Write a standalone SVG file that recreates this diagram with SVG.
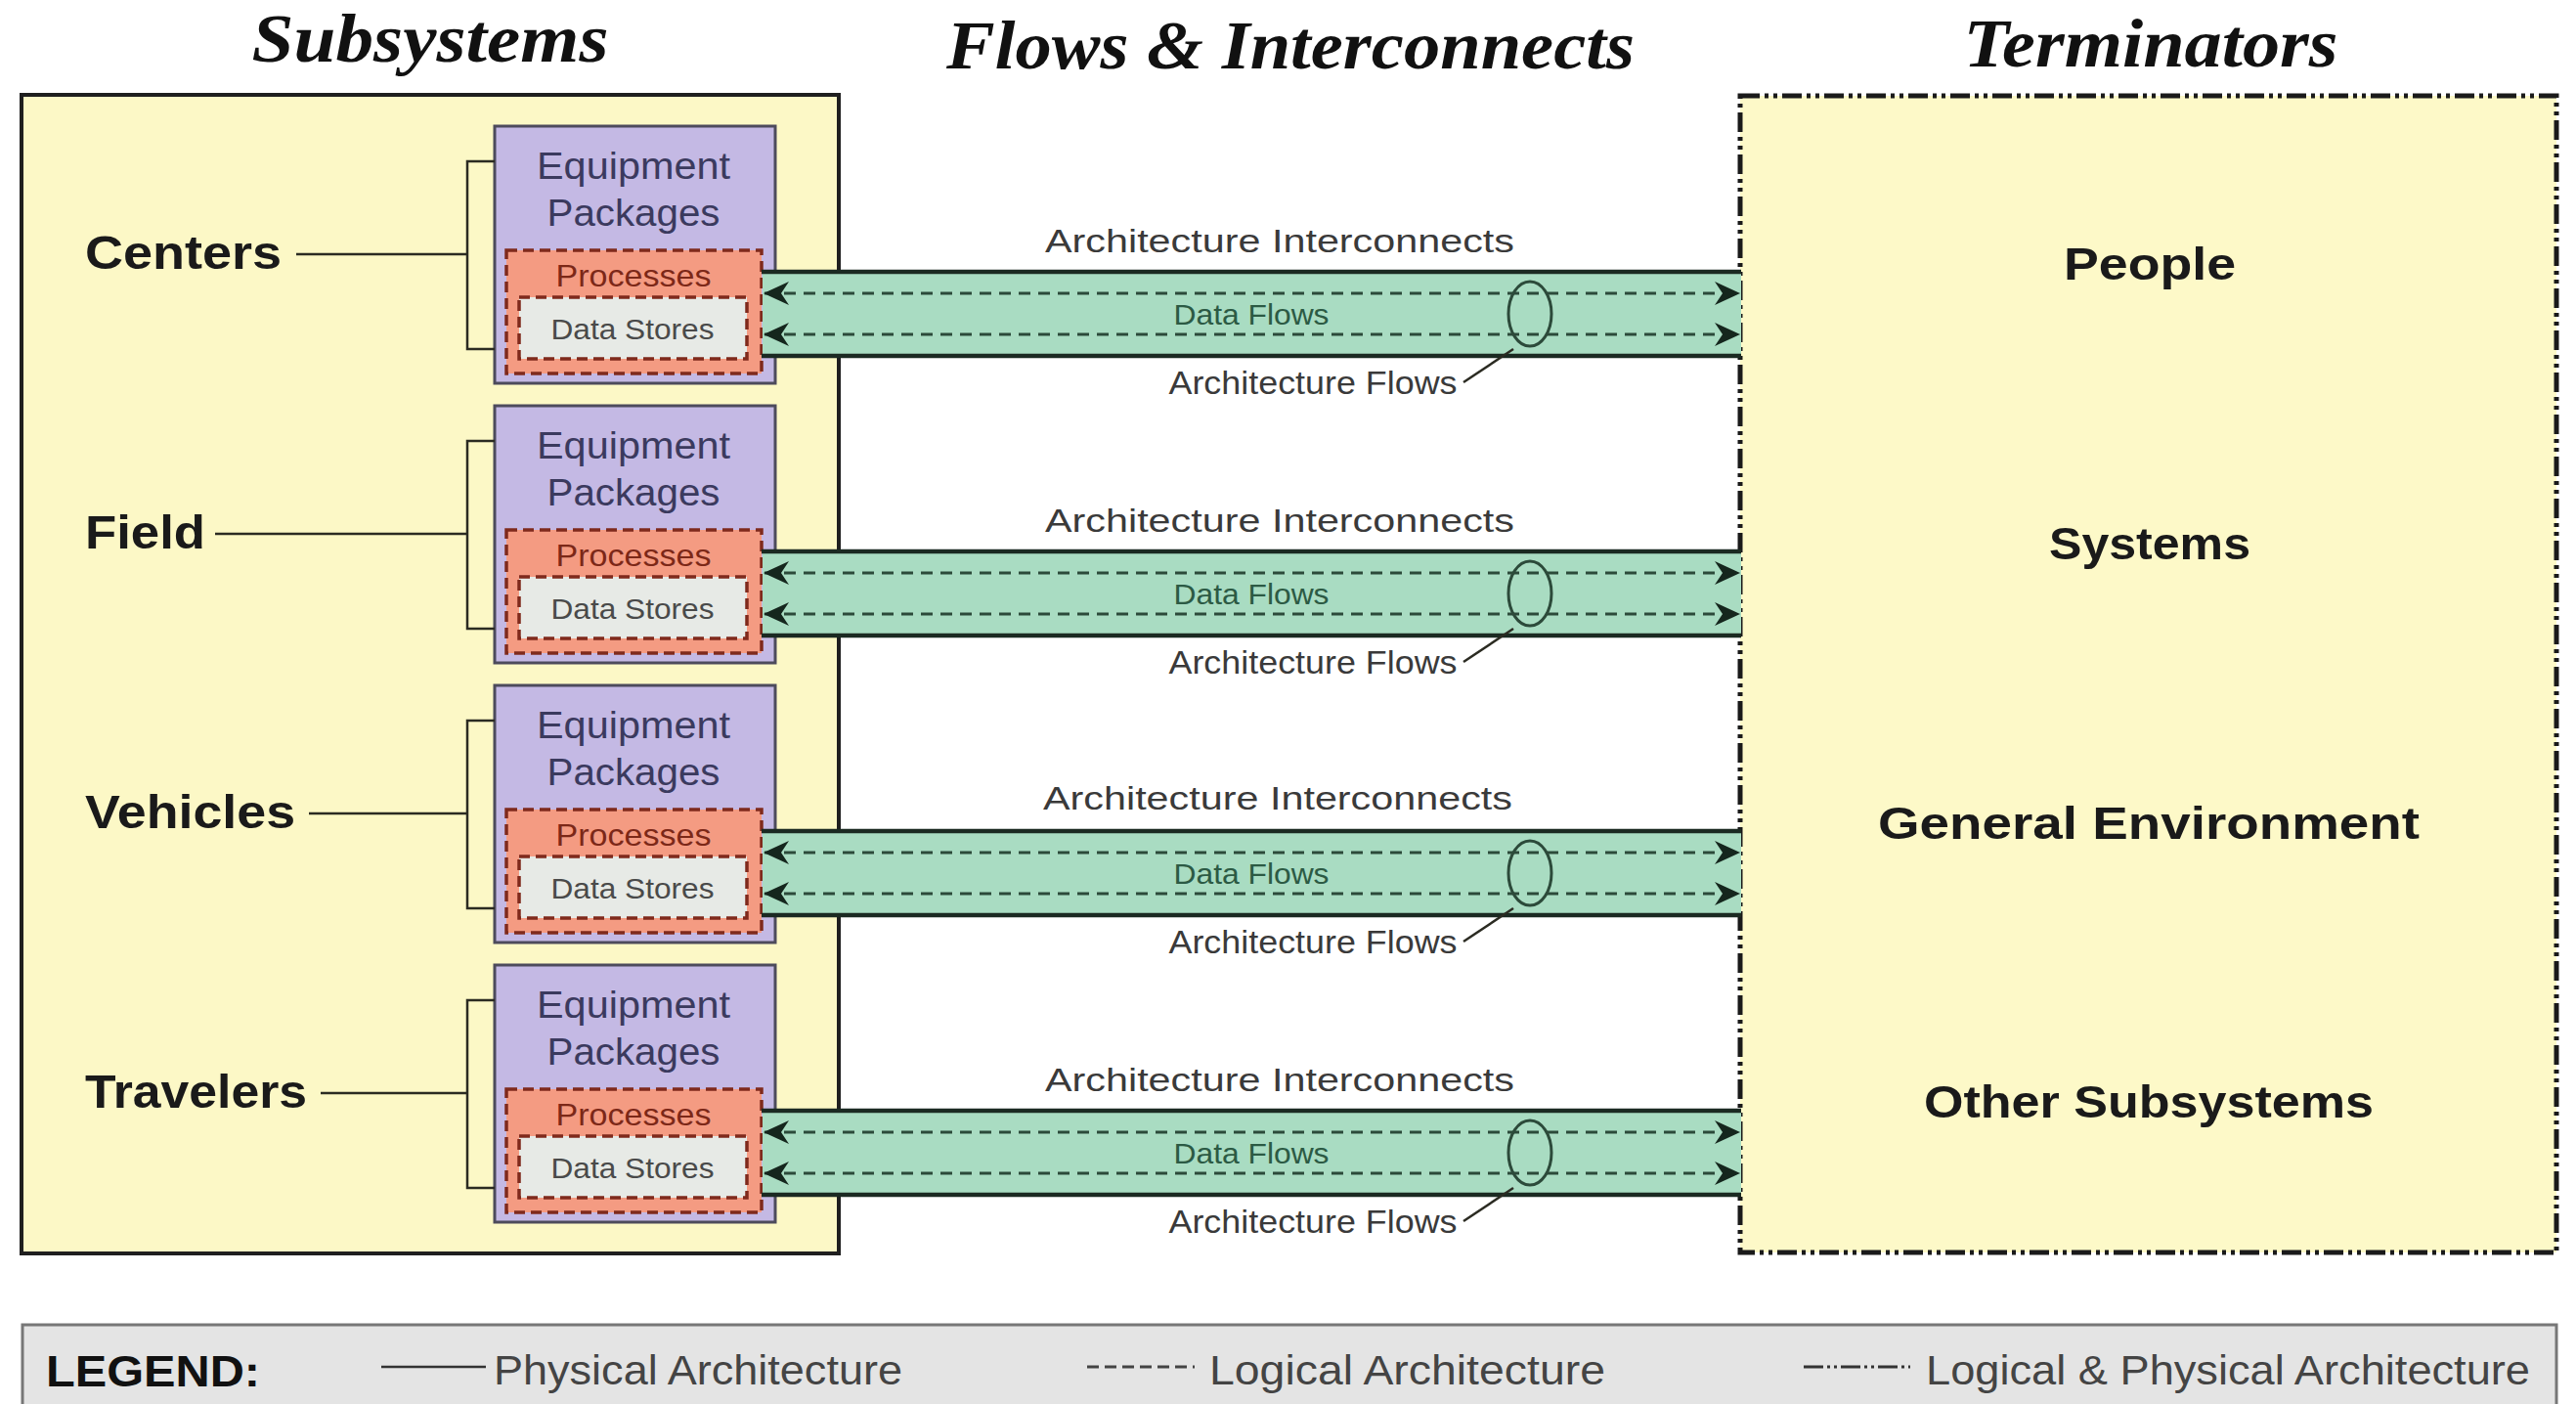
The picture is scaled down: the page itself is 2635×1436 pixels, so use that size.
<svg xmlns="http://www.w3.org/2000/svg" width="2635" height="1436" viewBox="0 0 2635 1436">
  <defs>
    <style>
      .title{font-family:"Liberation Serif","DejaVu Serif",serif;font-weight:bold;font-style:italic;font-size:70px;fill:#111;text-anchor:middle}
      .sans{font-family:"Liberation Sans",Arial,sans-serif}
      .sys{font-weight:bold;font-size:48px;fill:#1a1a1a}
      .term{font-weight:bold;font-size:46px;fill:#1a1a1a;text-anchor:middle}
      .eq{font-size:38px;fill:#3b3a5e;text-anchor:middle}
      .proc{font-size:32px;fill:#7c2818;text-anchor:middle}
      .store{font-size:30px;fill:#4a4a4a;text-anchor:middle}
      .df{font-size:29px;fill:#2c5a44;text-anchor:middle}
      .arch{font-size:34px;fill:#3a3a3a;text-anchor:middle}
      .lgd{font-size:42px;fill:#444}
      .lgdHead{font-size:44px;font-weight:bold;fill:#111}
      .box{fill:#fcf8c6;stroke:#1f1f1f;stroke-width:4}
      .termBox{fill:#fdf9c8;stroke:#1a1a1a;stroke-width:5;stroke-dasharray:20 5 4 5 4 5}
      .equip{fill:#c4b9e4;stroke:#4d4b5c;stroke-width:3}
      .procBox{fill:#f49b82;stroke:#7f2a1c;stroke-width:3.5;stroke-dasharray:11 6}
      .storeBox{fill:#e7eae6;stroke:#7f2a1c;stroke-width:3.5;stroke-dasharray:11 6}
      .lead{stroke:#2b2b22;stroke-width:2.5;fill:none}
      .band{fill:#a9dcc2}
      .bandEdge{stroke:#1b2a22;stroke-width:4.5}
      .flow{stroke:#2c4a3a;stroke-width:3;stroke-dasharray:12 8;fill:none}
      .ring{fill:none;stroke:#2c4a3a;stroke-width:3}
      .legendBox{fill:#e4e4e4;stroke:#777;stroke-width:3}
    </style>
    <marker id="arrow" viewBox="0 0 26 24" refX="25" refY="12" markerWidth="26" markerHeight="24" markerUnits="userSpaceOnUse" orient="auto-start-reverse">
      <path d="M0,0 L26,12 L0,24 L8,12 Z" fill="#15261d" stroke="none"/>
    </marker>
    <!-- one equipment package stack: package, processes, data stores -->
    <g id="stack">
      <rect class="equip" x="506" y="129" width="287" height="263"/>
      <text class="sans eq" x="648" y="183" textLength="198" lengthAdjust="spacingAndGlyphs">Equipment</text>
      <text class="sans eq" x="648" y="231" textLength="177" lengthAdjust="spacingAndGlyphs">Packages</text>
      <rect class="procBox" x="518" y="256" width="261" height="126"/>
      <text class="sans proc" x="648" y="293" textLength="159" lengthAdjust="spacingAndGlyphs">Processes</text>
      <rect class="storeBox" x="531" y="304" width="233" height="63"/>
      <text class="sans store" x="647" y="347" textLength="167" lengthAdjust="spacingAndGlyphs">Data Stores</text>
      <path class="lead" d="M506,165 H478 V357 H506"/>
    </g>
  </defs>

  <rect width="2635" height="1436" fill="#ffffff"/>

  <!-- column headings -->
  <g id="headings">
    <text class="title" x="440" y="63" textLength="365" lengthAdjust="spacingAndGlyphs">Subsystems</text>
    <text class="title" x="1320" y="70" textLength="704" lengthAdjust="spacingAndGlyphs">Flows &amp; Interconnects</text>
    <text class="title" x="2200" y="68" textLength="383" lengthAdjust="spacingAndGlyphs">Terminators</text>
  </g>

  <!-- container boxes -->
  <g id="subsystems">
    <rect class="box" x="22" y="97" width="836" height="1185"/>
  </g>
  <g id="terminators">
    <rect class="termBox" x="1780" y="98" width="835" height="1183"/>
  </g>

  <!-- subsystem classes -->
  <g id="centers">
    <text class="sans sys" x="87" y="275" textLength="201" lengthAdjust="spacingAndGlyphs">Centers</text>
    <line class="lead" x1="303" y1="260" x2="478" y2="260"/>
    <use href="#stack"/>
  </g>
  <g id="field" transform="translate(0,286)">
    <text class="sans sys" x="87" y="275" textLength="123" lengthAdjust="spacingAndGlyphs">Field</text>
    <line class="lead" x1="220" y1="260" x2="478" y2="260"/>
    <use href="#stack"/>
  </g>
  <g id="vehicles" transform="translate(0,572)">
    <text class="sans sys" x="87" y="275" textLength="215" lengthAdjust="spacingAndGlyphs">Vehicles</text>
    <line class="lead" x1="316" y1="260" x2="478" y2="260"/>
    <use href="#stack"/>
  </g>
  <g id="travelers" transform="translate(0,858)">
    <text class="sans sys" x="87" y="275" textLength="227" lengthAdjust="spacingAndGlyphs">Travelers</text>
    <line class="lead" x1="328" y1="260" x2="478" y2="260"/>
    <use href="#stack"/>
  </g>

  <!-- terminator classes -->
  <g id="people"><text class="sans term" x="2199" y="286" textLength="176" lengthAdjust="spacingAndGlyphs">People</text></g>
  <g id="systems"><text class="sans term" x="2199" y="572" textLength="206" lengthAdjust="spacingAndGlyphs">Systems</text></g>
  <g id="general-environment"><text class="sans term" x="2198" y="858" textLength="554" lengthAdjust="spacingAndGlyphs">General Environment</text></g>
  <g id="other-subsystems"><text class="sans term" x="2198" y="1143" textLength="460" lengthAdjust="spacingAndGlyphs">Other Subsystems</text></g>

  <!-- interconnect bands, each carrying two two-way data flows -->
  <g id="connectors">
    <g transform="translate(0,0)">
      <rect class="band" x="780" y="278" width="1001" height="86"/>
      <line class="bandEdge" x1="779" y1="278" x2="1781" y2="278"/>
      <line class="bandEdge" x1="779" y1="364" x2="1781" y2="364"/>
      <line class="flow" x1="782" y1="300" x2="1779" y2="300" marker-start="url(#arrow)" marker-end="url(#arrow)"/>
      <line class="flow" x1="782" y1="342" x2="1779" y2="342" marker-start="url(#arrow)" marker-end="url(#arrow)"/>
      <ellipse class="ring" cx="1565" cy="321" rx="22" ry="33"/>
      <path class="lead" d="M1548,357 L1497,391"/>
      <text class="sans arch" x="1309" y="258" textLength="480" lengthAdjust="spacingAndGlyphs">Architecture Interconnects</text>
      <text class="sans df" x="1280" y="332" textLength="159" lengthAdjust="spacingAndGlyphs">Data Flows</text>
      <text class="sans arch" x="1343" y="403" textLength="295" lengthAdjust="spacingAndGlyphs">Architecture Flows</text>
    </g>
    <g transform="translate(0,286)">
      <rect class="band" x="780" y="278" width="1001" height="86"/>
      <line class="bandEdge" x1="779" y1="278" x2="1781" y2="278"/>
      <line class="bandEdge" x1="779" y1="364" x2="1781" y2="364"/>
      <line class="flow" x1="782" y1="300" x2="1779" y2="300" marker-start="url(#arrow)" marker-end="url(#arrow)"/>
      <line class="flow" x1="782" y1="342" x2="1779" y2="342" marker-start="url(#arrow)" marker-end="url(#arrow)"/>
      <ellipse class="ring" cx="1565" cy="321" rx="22" ry="33"/>
      <path class="lead" d="M1548,357 L1497,391"/>
      <text class="sans arch" x="1309" y="258" textLength="480" lengthAdjust="spacingAndGlyphs">Architecture Interconnects</text>
      <text class="sans df" x="1280" y="332" textLength="159" lengthAdjust="spacingAndGlyphs">Data Flows</text>
      <text class="sans arch" x="1343" y="403" textLength="295" lengthAdjust="spacingAndGlyphs">Architecture Flows</text>
    </g>
    <g transform="translate(0,572)">
      <rect class="band" x="780" y="278" width="1001" height="86"/>
      <line class="bandEdge" x1="779" y1="278" x2="1781" y2="278"/>
      <line class="bandEdge" x1="779" y1="364" x2="1781" y2="364"/>
      <line class="flow" x1="782" y1="300" x2="1779" y2="300" marker-start="url(#arrow)" marker-end="url(#arrow)"/>
      <line class="flow" x1="782" y1="342" x2="1779" y2="342" marker-start="url(#arrow)" marker-end="url(#arrow)"/>
      <ellipse class="ring" cx="1565" cy="321" rx="22" ry="33"/>
      <path class="lead" d="M1548,357 L1497,391"/>
      <text class="sans arch" x="1307" y="256" textLength="480" lengthAdjust="spacingAndGlyphs">Architecture Interconnects</text>
      <text class="sans df" x="1280" y="332" textLength="159" lengthAdjust="spacingAndGlyphs">Data Flows</text>
      <text class="sans arch" x="1343" y="403" textLength="295" lengthAdjust="spacingAndGlyphs">Architecture Flows</text>
    </g>
    <g transform="translate(0,858)">
      <rect class="band" x="780" y="278" width="1001" height="86"/>
      <line class="bandEdge" x1="779" y1="278" x2="1781" y2="278"/>
      <line class="bandEdge" x1="779" y1="364" x2="1781" y2="364"/>
      <line class="flow" x1="782" y1="300" x2="1779" y2="300" marker-start="url(#arrow)" marker-end="url(#arrow)"/>
      <line class="flow" x1="782" y1="342" x2="1779" y2="342" marker-start="url(#arrow)" marker-end="url(#arrow)"/>
      <ellipse class="ring" cx="1565" cy="321" rx="22" ry="33"/>
      <path class="lead" d="M1548,357 L1497,391"/>
      <text class="sans arch" x="1309" y="258" textLength="480" lengthAdjust="spacingAndGlyphs">Architecture Interconnects</text>
      <text class="sans df" x="1280" y="332" textLength="159" lengthAdjust="spacingAndGlyphs">Data Flows</text>
      <text class="sans arch" x="1343" y="403" textLength="295" lengthAdjust="spacingAndGlyphs">Architecture Flows</text>
    </g>
  </g>

  <!-- legend strip -->
  <g id="legend">
    <rect class="legendBox" x="23" y="1355" width="2592" height="110"/>
    <text class="sans lgdHead" x="47" y="1418" textLength="219" lengthAdjust="spacingAndGlyphs">LEGEND:</text>
    <line x1="390" y1="1398" x2="497" y2="1398" stroke="#333" stroke-width="2.5"/>
    <text class="sans lgd" x="505" y="1416" textLength="418" lengthAdjust="spacingAndGlyphs">Physical Architecture</text>
    <line x1="1112" y1="1398" x2="1222" y2="1398" stroke="#444" stroke-width="3" stroke-dasharray="12 6"/>
    <text class="sans lgd" x="1237" y="1416" textLength="405" lengthAdjust="spacingAndGlyphs">Logical Architecture</text>
    <line x1="1845" y1="1398" x2="1954" y2="1398" stroke="#333" stroke-width="3" stroke-dasharray="20 4 3 4 3 4"/>
    <text class="sans lgd" x="1970" y="1416" textLength="618" lengthAdjust="spacingAndGlyphs">Logical &amp; Physical Architecture</text>
  </g>
</svg>
